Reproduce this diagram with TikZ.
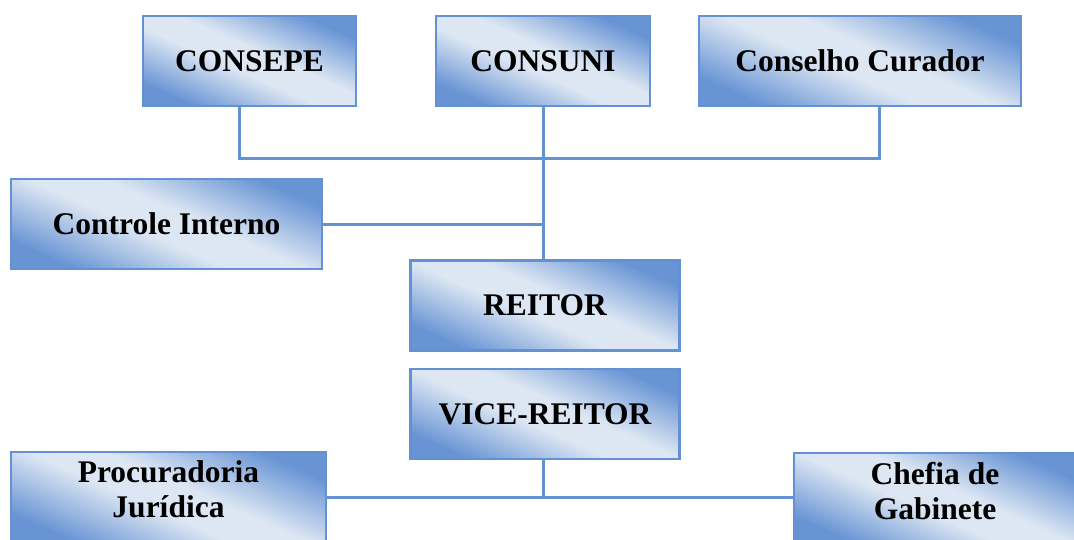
\documentclass[tikz,border=0pt]{standalone}
\usepackage{fontspec}
\setmainfont{Liberation Serif}
\usetikzlibrary{positioning}

\definecolor{boxblue}{RGB}{104,148,212}
\definecolor{boxlight}{RGB}{221,231,243}
\definecolor{lineblue}{RGB}{100,145,212}
\pgfdeclareverticalshading{boxshade}{100bp}{color(0bp)=(boxblue); color(25bp)=(boxblue);
  color(45bp)=(boxlight); color(55bp)=(boxlight); color(75bp)=(boxblue); color(100bp)=(boxblue)}

\begin{document}
\begin{tikzpicture}
	[x=1pt, y=1pt, on grid, node distance=100pt,
	 unit/.style={draw=lineblue, line width=2.5pt, shading=boxshade, shading angle=-24,
	   minimum height=90pt, inner sep=0pt,
	   align=center, font=\fontsize{31.5}{35}\selectfont\bfseries},
	 link/.style={draw=lineblue, line width=3pt}]
   \useasboundingbox (0,0) rectangle (1074,-539);
   \node[unit, minimum width=214pt] (consuni) at (543,-61) {CONSUNI};
   \node[unit, minimum width=213pt] (consepe) [left=293.5pt of consuni] {CONSEPE};
   \node[unit, minimum width=322pt] (conselho) [right=317pt of consuni] {Conselho Curador};
   \node[unit, minimum width=269pt] (reitor) [below right=244.5pt and 2pt of consuni] {REITOR};
   \node[unit, minimum width=269pt] (vice) [below=108.5pt of reitor] {VICE-REITOR};
   \node[unit, minimum width=311pt] (controle) [above left=81.5pt and 378.5pt of reitor] {Controle Interno};
   \node[unit, minimum width=315pt, text depth=15pt] (procuradoria) [below left=83pt and 376.5pt of vice] {Procuradoria\\Jurídica};
   \node[unit, minimum width=282pt, text depth=15pt] (chefia) [below right=84pt and 390pt of vice] {Chefia de\\Gabinete};
   \coordinate (topbus) at (543,-158);
   % conselhos -> reitor
   \draw[link] ([xshift=-10pt]consepe.south) |- (topbus) -| ([xshift=19pt]conselho.south);
   \draw[link] (consuni.south) -- (consuni.south |- reitor.north);
   \draw[link] (controle.east) -- (controle.east -| consuni.south);
   % vice-reitor -> assessorias
   \draw[link] (vice.south -| consuni) -- (procuradoria.east -| consuni);
   \draw[link] (procuradoria.east) -- (chefia.west |- procuradoria.east);
\end{tikzpicture}
\end{document}
